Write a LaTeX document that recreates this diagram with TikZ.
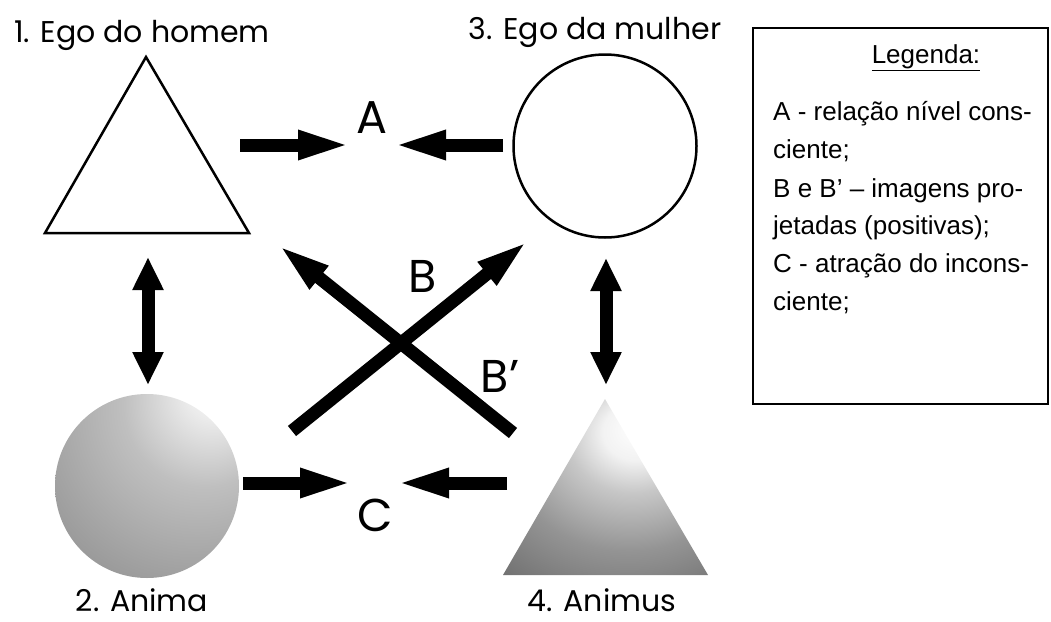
\documentclass[tikz,border=0pt]{standalone}
\usepackage{fontspec}
\setmainfont{Liberation Sans}
\newfontfamily\gothic{Poppins}
\usetikzlibrary{arrows.meta}
\pgfdeclareradialshading{sphereshade}{\pgfpoint{20bp}{28bp}}{color(0bp)=(white); color(8bp)=(black!8); color(22bp)=(black!25); color(45bp)=(black!40); color(70bp)=(black!53); color(100bp)=(black!62)}
\pgfdeclareradialshading{trishade}{\pgfpoint{8bp}{17bp}}{color(0bp)=(white); color(8bp)=(black!5); color(16bp)=(black!22); color(30bp)=(black!42); color(50bp)=(black!60); color(75bp)=(black!80); color(100bp)=(black!88)}
\begin{document}
\begin{tikzpicture}[x=1pt,y=-1pt,
  fat/.style={line width=13pt,-{Triangle[length=54pt,width=26pt]}},
  dbl/.style={line width=13pt,{Triangle[length=33pt,width=29pt]}-{Triangle[length=33pt,width=29pt]}},
  lab/.style={font=\gothic\fontsize{30}{32}\selectfont, inner sep=0pt, anchor=base, text depth=0pt},
  big/.style={font=\gothic\fontsize{46}{50}\selectfont, inner sep=0pt, anchor=base},
  leg/.style={font=\fontsize{26}{30}\selectfont, inner sep=0pt, anchor=base west},
  outline/.style={draw=black, line width=2.5pt, line join=miter}]
\useasboundingbox (0,0) rectangle (1051,621);
% shapes
\coordinate (t1a) at (146,57);
\coordinate (t1l) at (45,233);
\coordinate (t1r) at (249,233);
\draw[outline, fill=white] (t1a) -- (t1l) -- (t1r) -- cycle;
\node[circle, outline, minimum size=183pt, inner sep=0pt] (ego3) at (605,146) {};
\node[circle, minimum size=184pt, inner sep=0pt, shading=sphereshade] (anima) at (147,486) {};
\coordinate (t4a) at (605,399);
\coordinate (t4l) at (503,575);
\coordinate (t4r) at (708,575);
\shade[shading=trishade] (t4a) -- (t4l) -- (t4r) -- cycle;
% labels
\node[lab] (l1) at (142,42) {1. Ego do homem};
\node[lab] (l3) at (595,39) {3. Ego da mulher};
\node[lab] (l2) at (142,611) {2. Anima};
\node[lab] (l4) at (602,611) {4. Animus};
\node[big] (A) at (372,133) {A};
\node[big] (B) at (423,292) {B};
\node[big] (Bp) at (500,392) {B’};
\node[big] (C) at (375,531) {C};
% arrow end points
\coordinate (a1s) at (240,145); \coordinate (a1e) at (352,145);
\coordinate (a2s) at (503,145); \coordinate (a2e) at (392,145);
\coordinate (c1s) at (243,483); \coordinate (c1e) at (354,483);
\coordinate (c2s) at (507,483); \coordinate (c2e) at (395,483);
\coordinate (v1s) at (148,257); \coordinate (v1e) at (148,385);
\coordinate (v2s) at (606,258); \coordinate (v2e) at (606,385);
\coordinate (x1s) at (513,433); \coordinate (x1e) at (277,244);
\coordinate (x2s) at (292,431); \coordinate (x2e) at (529,240);
\draw[fat] (a1s) -- (a1e);
\draw[fat] (a2s) -- (a2e);
\draw[fat] (c1s) -- (c1e);
\draw[fat] (c2s) -- (c2e);
\draw[dbl] (v1s) -- (v1e);
\draw[dbl] (v2s) -- (v2e);
\draw[fat] (x1s) -- (x1e);
\draw[fat] (x2s) -- (x2e);
% legend
\draw[line width=2pt] (753,28) rectangle (1048,404);
\node[font=\fontsize{26}{30}\selectfont, inner sep=0pt, anchor=base] (legt) at (926,63) {\underline{Legenda:}};
\node[leg] (g1) at (773,120) {A - relação nível cons-};
\node[leg] (g2) at (773,158) {ciente;};
\node[leg] (g3) at (773,197) {B e B’ – imagens pro-};
\node[leg] (g4) at (773,234) {jetadas (positivas);};
\node[leg] (g5) at (773,272) {C - atração do incons-};
\node[leg] (g6) at (773,310) {ciente;};
\end{tikzpicture}
\end{document}
